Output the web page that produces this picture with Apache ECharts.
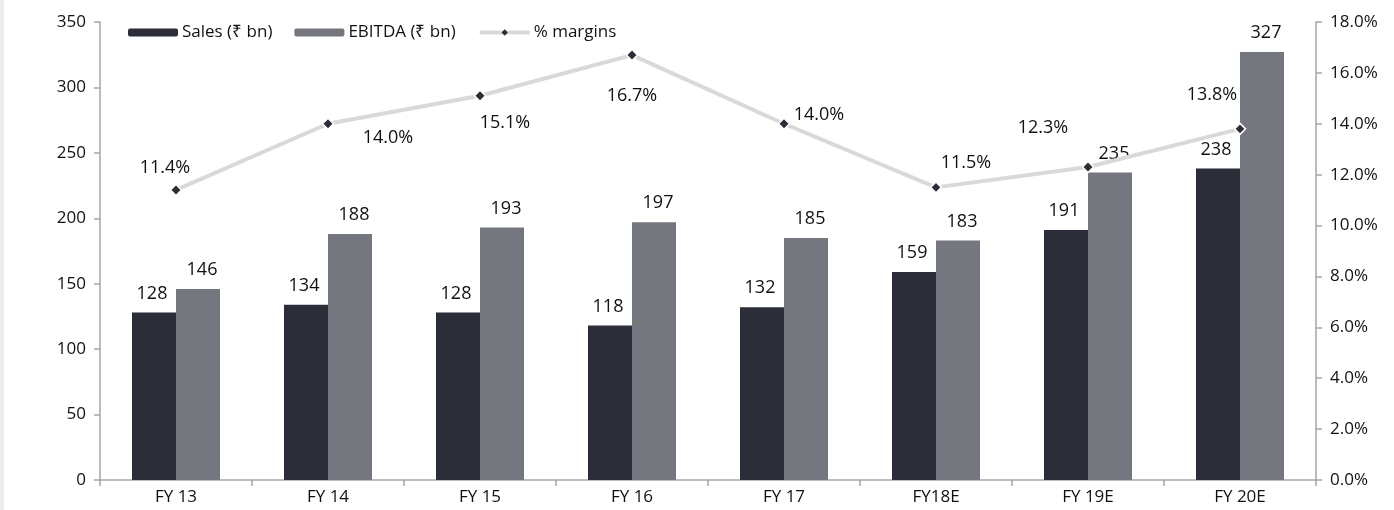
<!DOCTYPE html>
<html><head><meta charset="utf-8">
<script src="https://cdn.jsdelivr.net/npm/echarts@6/dist/echarts.min.js"></script>
<style>html,body{margin:0;padding:0;background:#fff}#c{width:1394px;height:510px;border-left:4px solid #ececec;box-sizing:border-box}</style>
</head><body><div id="c"></div>
<script>
const categories = ['FY 13','FY 14','FY 15','FY 16','FY 17','FY18E','FY 19E','FY 20E'];
const sales = [128,134,128,118,132,159,191,238];
const ebitda = [146,188,193,197,185,183,235,327];
const margins = [11.4,14.0,15.1,16.7,14.0,11.5,12.3,13.8];
const marginLabelOffsets = [[-11,-22],[60,14],[25,27],[0,41],[35,-9],[30,-25],[-45,-39],[-28,-34]];

const font = 'Open Sans';
const chart = echarts.init(document.getElementById('c'));
const axisLine = {show:true, lineStyle:{color:'#a6a6a6', width:1.5}};
chart.setOption({
  animation:false,
  textStyle:{fontFamily:font},
  grid:{left:96, right:78, top:22, bottom:30},
  legend:{left:119, top:19, itemWidth:50, itemHeight:8, itemGap:22,
    textStyle:{fontFamily:font, fontSize:17, color:'#111', padding:[0,0,0,-1]},
    data:['Sales (₹ bn)','EBITDA (₹ bn)',
      {name:'% margins', lineStyle:{width:4, color:'#d9d9d9'}, itemStyle:{color:'#2b2d38', borderWidth:0}}]},
  xAxis:{type:'category', data:categories, axisLine:axisLine,
    axisTick:{show:true, length:6, lineStyle:{color:'#a6a6a6', width:1.5}},
    axisLabel:{fontSize:17, color:'#111', margin:9}},
  yAxis:[
    {type:'value', min:0, max:350, interval:50, axisLine:axisLine,
     axisTick:{show:true, length:6, lineStyle:{color:'#a6a6a6', width:1.5}},
     splitLine:{show:false}, axisLabel:{fontSize:17, color:'#111', margin:14}},
    {type:'value', min:0, max:18, interval:2, position:'right', axisLine:axisLine,
     axisTick:{show:true, length:6, lineStyle:{color:'#a6a6a6', width:1.5}},
     splitLine:{show:false}, axisLabel:{fontSize:17, color:'#111', margin:14,
       formatter:v=>v.toFixed(1)+'%'}}
  ],
  series:[
    {name:'Sales (₹ bn)', type:'bar', data:sales, barWidth:44, barGap:'0%',
     itemStyle:{color:'#2b2d38'},
     label:{show:true, position:'top', distance:10, fontSize:18, color:'#111', offset:[-2,0]}},
    {name:'EBITDA (₹ bn)', type:'bar', data:ebitda, barWidth:44,
     itemStyle:{color:'#75777e'},
     label:{show:true, position:'top', distance:10, fontSize:18, color:'#111', offset:[4,0]}},
    {name:'% margins', type:'line', yAxisIndex:1, data:margins.map((v,i)=>({value:v,
        label:{offset:marginLabelOffsets[i]}})),
     lineStyle:{color:'#d9d9d9', width:4},
     symbol:'diamond', symbolSize:11,
     itemStyle:{color:'#2b2d38', borderColor:'#fff', borderWidth:1.5},
     label:{show:true, position:'inside', fontSize:18, color:'#111',
       formatter:p=>p.value.toFixed(1)+'%'}, z:5}
  ]
});
</script></body></html>
